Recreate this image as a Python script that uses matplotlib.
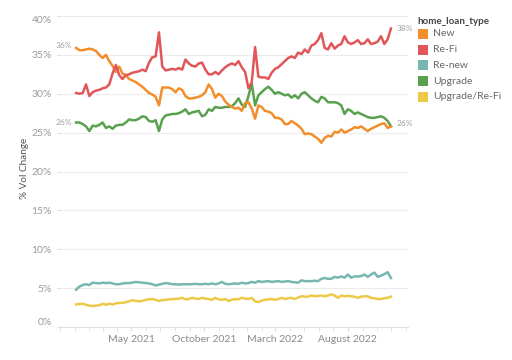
import numpy as np
import pandas as pd
import matplotlib
matplotlib.use("Agg")
import matplotlib.pyplot as plt
import matplotlib.dates as mdates
from matplotlib.patches import Rectangle
from matplotlib.ticker import FuncFormatter

plt.rcParams['font.family'] = ['Lato', 'DejaVu Sans']

# weekly shares (% of volume), Jan 2021 - Oct 2022
dates = pd.date_range('2021-01-04', periods=96, freq='7D')
tick_dates = pd.to_datetime(['2021-05-01', '2021-10-01', '2022-03-01', '2022-08-01'])

new_vals = [35.9, 35.6, 35.6, 35.7, 35.8, 35.7, 35.5, 35.0, 34.6, 35.0,
            34.2, 33.6, 32.8, 33.5, 32.6, 32.4, 31.9, 31.7, 31.5, 31.2,
            30.9, 30.5, 30.1, 29.9, 29.6, 28.5, 30.8, 30.8, 30.8, 30.6,
            30.2, 30.7, 30.5, 29.7, 29.4, 29.4, 29.5, 29.6, 29.8, 30.2,
            31.2, 30.6, 29.5, 30.0, 29.7, 29.0, 28.6, 28.3, 28.1, 28.2,
            27.8, 28.8, 28.9, 28.1, 26.8, 28.5, 28.3, 27.8, 27.7, 27.5,
            26.9, 26.9, 26.7, 26.1, 26.1, 26.5, 26.2, 25.9, 25.5, 24.8,
            24.9, 24.8, 24.5, 24.2, 23.7, 24.3, 24.6, 24.5, 25.1, 25.0,
            25.4, 25.0, 25.2, 25.4, 25.7, 25.6, 25.8, 25.5, 25.2, 25.5,
            25.7, 25.9, 26.1, 26.2, 25.6, 25.8]

refi_vals = [30.1, 30.0, 30.1, 31.2, 29.7, 30.2, 30.4, 30.5, 30.7, 30.8,
             31.2, 32.6, 33.7, 32.4, 31.9, 32.4, 32.5, 32.7, 32.8, 32.9,
             33.1, 32.9, 34.0, 34.7, 34.8, 37.9, 33.5, 33.0, 33.1, 33.2,
             33.1, 33.3, 33.1, 34.4, 33.9, 33.6, 33.5, 33.9, 34.0, 33.1,
             32.5, 32.5, 32.8, 32.5, 33.0, 33.4, 33.7, 33.9, 33.7, 34.2,
             33.4, 32.8, 30.7, 31.5, 36.0, 32.2, 32.1, 32.1, 31.9, 32.7,
             33.2, 33.4, 33.8, 34.2, 34.6, 34.8, 34.6, 35.3, 35.1, 35.7,
             35.3, 36.2, 36.4, 36.9, 37.8, 35.9, 35.7, 36.5, 35.8, 36.2,
             36.4, 37.4, 36.6, 36.4, 36.6, 36.9, 36.4, 36.5, 37.0, 36.4,
             36.5, 36.7, 37.4, 36.4, 37.0, 38.4]

renew_vals = [4.8, 5.2, 5.4, 5.5, 5.4, 5.7, 5.65, 5.6, 5.7, 5.65,
              5.7, 5.6, 5.5, 5.5, 5.6, 5.65, 5.65, 5.7, 5.8, 5.75,
              5.7, 5.65, 5.6, 5.5, 5.35, 5.45, 5.55, 5.65, 5.6, 5.5,
              5.5, 5.45, 5.5, 5.5, 5.5, 5.5, 5.55, 5.5, 5.5, 5.55,
              5.5, 5.6, 5.5, 5.6, 5.8, 5.55, 5.5, 5.55, 5.6, 5.55,
              5.7, 5.6, 5.65, 5.8, 5.7, 5.9, 5.8, 5.85, 5.9, 5.8,
              5.85, 5.9, 5.8, 5.85, 5.9, 5.8, 5.75, 5.7, 6.0, 5.9,
              5.9, 5.9, 5.95, 5.9, 6.2, 6.3, 6.2, 6.2, 6.45, 6.35,
              6.5, 6.35, 6.75, 6.35, 6.5, 6.5, 6.55, 6.75, 6.45, 6.75,
              7.0, 6.45, 6.6, 6.8, 7.05, 6.3]

upgrade_vals = [26.3, 26.3, 26.1, 25.8, 25.2, 25.9, 25.8, 26.0, 26.3, 25.6,
                25.8, 25.5, 25.9, 26.0, 26.0, 26.3, 26.7, 26.6, 26.6, 26.8,
                27.1, 27.0, 26.5, 26.4, 26.6, 25.2, 26.7, 27.2, 27.3, 27.4,
                27.4, 27.5, 27.7, 28.0, 27.4, 27.6, 27.7, 27.8, 27.1, 27.3,
                28.0, 27.8, 28.3, 28.2, 28.2, 28.3, 28.3, 28.4, 28.8, 29.4,
                28.6, 28.3, 29.7, 31.3, 28.5, 29.8, 30.2, 30.6, 30.9, 30.5,
                30.0, 30.2, 30.0, 29.8, 29.9, 29.5, 29.8, 29.4, 30.0, 30.2,
                29.8, 29.4, 29.1, 28.9, 29.6, 29.4, 28.9, 28.9, 28.9, 28.8,
                28.5, 27.4, 28.0, 27.8, 27.4, 27.6, 27.4, 27.2, 27.0, 26.9,
                26.9, 27.0, 27.1, 26.9, 26.5, 25.8]

upg_refi_vals = [2.9, 2.95, 3.0, 2.85, 2.75, 2.7, 2.75, 2.8, 3.0, 2.85,
                 3.0, 2.9, 3.05, 3.1, 3.1, 3.2, 3.3, 3.45, 3.35, 3.3,
                 3.35, 3.5, 3.55, 3.6, 3.5, 3.35, 3.45, 3.5, 3.55, 3.6,
                 3.6, 3.65, 3.75, 3.55, 3.6, 3.75, 3.65, 3.6, 3.75, 3.65,
                 3.6, 3.5, 3.75, 3.55, 3.5, 3.6, 3.35, 3.5, 3.6, 3.55,
                 3.75, 3.65, 3.6, 3.75, 3.3, 3.2, 3.4, 3.5, 3.55, 3.6,
                 3.5, 3.6, 3.75, 3.6, 3.7, 3.75, 3.6, 3.8, 3.95, 3.9,
                 3.9, 4.05, 3.95, 4.0, 4.05, 3.95, 4.05, 4.2, 4.05, 3.75,
                 4.05, 3.95, 4.0, 3.95, 3.9, 3.75, 3.9, 3.95, 3.95, 3.75,
                 3.7, 3.6, 3.6, 3.7, 3.75, 3.9]

types = ['New', 'Re-Fi', 'Re-new', 'Upgrade', 'Upgrade/Re-Fi']
series = [new_vals, refi_vals, renew_vals, upgrade_vals, upg_refi_vals]
colors = ['#F28E2B', '#E15759', '#76B7B2', '#59A14F', '#EDC948']

fig = plt.figure(figsize=(5.12, 3.6), dpi=100)
ax = fig.add_axes([60 / 512, 1 - 327 / 360, 348 / 512, 311 / 360])

# draw order: teal/yellow at bottom, then green, orange, red on top
for idx in [2, 4, 3, 0, 1]:
    ax.plot(dates, series[idx], color=colors[idx], lw=1.8, solid_joinstyle='round')

ax.set_ylim(0, 40)
ax.set_xlim(pd.Timestamp('2020-12-01'), pd.Timestamp('2022-12-06'))
ax.set_yticks(np.arange(0, 41, 5))
ax.yaxis.set_major_formatter(FuncFormatter(lambda v, p: f'{int(v)}%'))
ax.grid(axis='y', color='#ececec', lw=0.8)
ax.set_axisbelow(True)

ax.set_xticks(tick_dates)
ax.xaxis.set_minor_locator(mdates.MonthLocator())
ax.xaxis.set_major_formatter(mdates.DateFormatter('%B %Y'))

for s in ['top', 'right', 'left']:
    ax.spines[s].set_visible(False)
ax.spines['bottom'].set_color('#e0e0e0')
ax.tick_params(axis='x', which='both', length=3, color='#dddddd',
               labelsize=7.5, labelcolor='#8a8a8a', pad=3)
ax.tick_params(axis='y', length=2, color='#dddddd', labelsize=7.5,
               labelcolor='#9a9a9a', pad=4)

# edge tick labels are nudged inside like the original
ylabels = ax.get_yticklabels()
ylabels[0].set_va('bottom')
ylabels[-1].set_va('top')

ax.set_ylabel('% Vol Change', fontsize=7.2, color='#555555')
ax.yaxis.set_label_coords(-0.088, 0.51)

# end labels
lab_kw = dict(fontsize=6, color='#a0a0a0', clip_on=False)
ax.annotate(f'{new_vals[0]:.0f}%', (dates[0], new_vals[0]), xytext=(-3, 2),
            textcoords='offset points', ha='right', va='center', **lab_kw)
ax.annotate(f'{upgrade_vals[0]:.0f}%', (dates[0], upgrade_vals[0]), xytext=(-3, 0),
            textcoords='offset points', ha='right', va='center', **lab_kw)
ax.annotate(f'{refi_vals[-1]:.0f}%', (dates[-1], refi_vals[-1]), xytext=(4, 0),
            textcoords='offset points', ha='left', va='center', **lab_kw)
ax.annotate(f'{upgrade_vals[-1]:.0f}%', (dates[-1], upgrade_vals[-1]), xytext=(4, 2),
            textcoords='offset points', ha='left', va='center', **lab_kw)

# legend
fig.text(417 / 512, 1 - 21 / 360, 'home_loan_type', fontsize=7, fontweight='bold',
         color='#444444', va='center', ha='left')
for k, (name, col) in enumerate(zip(types, colors)):
    yc = 34 + 15.7 * k
    fig.add_artist(Rectangle((418 / 512, 1 - (yc + 5) / 360), 10 / 512, 10 / 360,
                             transform=fig.transFigure, color=col, lw=0))
    fig.text(433 / 512, 1 - yc / 360, name, fontsize=7.5, color='#666666',
             va='center', ha='left')

fig.savefig('out.png', dpi=100)
